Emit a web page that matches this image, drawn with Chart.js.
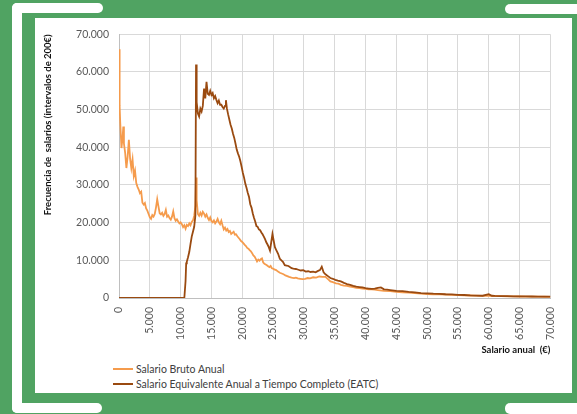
<!DOCTYPE html>
<html>
<head>
<meta charset="utf-8">
<script src="https://cdn.jsdelivr.net/npm/chart.js@4.4.1/dist/chart.umd.min.js"></script>
<style>
  html,body{margin:0;padding:0;}
  body{width:577px;height:414px;background:#50a362;position:relative;overflow:hidden;font-family:Lato,"Open Sans",sans-serif;}
  .bar{position:absolute;background:#fff;}
  #card{position:absolute;left:35px;top:18px;width:537px;height:375px;background:#fff;}
  #cv{position:absolute;left:35px;top:18px;}
  #legend{position:absolute;left:113px;top:361px;font-family:Lato,sans-serif;font-size:10.5px;color:#404040;}
  .row{display:flex;align-items:center;height:15px;}
  .sw{width:20px;height:2px;margin-right:3px;}
</style>
</head>
<body>
<div class="bar" style="left:12px;top:3px;width:10px;height:410px;border-radius:5px;"></div>
<div class="bar" style="left:12px;top:3px;width:91px;height:10px;border-radius:5px;"></div>
<div class="bar" style="left:12px;top:403px;width:90px;height:10px;border-radius:5px;"></div>
<div class="bar" style="left:505px;top:4px;width:80px;height:10px;border-radius:5px;"></div>
<div class="bar" style="left:505px;top:403px;width:80px;height:11px;border-radius:5px;"></div>
<div id="card"></div>
<canvas id="cv" width="537" height="342"></canvas>
<div id="legend"></div>
<script>
// ---- Data (salary in €, frequency per 200€ interval) ----
const seriesNames = ["Salario Bruto Anual", "Salario Equivalente Anual a Tiempo Completo (EATC)"];
const seriesColors = ["#f59b4c", "#9a4a10"];

const salarioBrutoAnual = [
[0,66000],[100,51000],[200,46500],[400,39800],[600,43000],[700,45500],[800,41000],[1000,38500],[1200,34500],[1400,37500],
[1600,42000],[1800,37000],[2000,34500],[2200,36800],[2400,32400],[2600,33800],[2800,30500],[3000,29500],[3200,28800],[3400,27800],
[3600,28200],[3800,25300],[4000,24800],[4200,25200],[4400,23800],[4600,23200],[4800,22300],[5000,21400],[5200,21000],[5400,22000],
[5600,21600],[5800,22300],[6000,24000],[6200,26200],[6400,24300],[6600,22500],[6800,22200],[7000,22600],[7200,21800],[7400,22300],
[7600,23400],[7800,21600],[8000,21900],[8200,21200],[8400,20800],[8600,21600],[8800,23000],[9000,21200],[9200,20500],[9400,20900],
[9600,20300],[9800,19800],[10000,20100],[10200,19600],[10400,18800],[10600,19300],[10800,18400],[11000,19400],[11200,19100],[11400,19800],
[11600,19300],[11800,20200],[12000,20600],[12200,21800],[12400,24500],[12500,32000],[12600,26000],[12800,22300],[13000,21800],[13200,22600],
[13400,21900],[13600,22900],[13800,22400],[14000,21600],[14200,22200],[14400,21300],[14600,20700],[14800,21400],[15000,20400],[15200,20100],
[15400,20600],[15600,19800],[15800,20300],[16000,21000],[16200,20100],[16400,19600],[16600,20500],[16800,19300],[17000,18200],[17200,18700],
[17400,17900],[17600,18300],[17800,17500],[18000,17800],[18200,17000],[18400,17300],[18600,17600],[18800,16800],[19000,16900],[19200,16400],
[19400,16000],[19600,15600],[19800,15100],[20000,14900],[20200,14500],[20400,14100],[20600,13800],[20800,13300],[21000,13100],[21200,12700],
[21400,12400],[21600,11900],[21800,11300],[22000,11000],[22200,10400],[22400,9700],[22600,10200],[22800,9900],[23000,10300],[23200,10500],
[23400,9400],[23600,9100],[23800,8900],[24000,8700],[24200,8400],[24400,8200],[24600,8500],[24800,7900],[25000,7800],[25200,7600],
[25500,7400],[25800,7000],[26100,6700],[26400,6500],[26700,6300],[27000,6000],[27300,5800],[27600,5600],[28000,5400],[28400,5300],
[28700,5400],[29000,5200],[29400,5100],[29800,5000],[30200,5100],[30600,5300],[31000,5200],[31500,5500],[32000,5400],[32500,5700],
[33000,5600],[33500,5600],[34000,4900],[34300,4400],[34700,4200],[35200,3900],[35600,3800],[36000,3500],[36500,3300],[37000,3200],
[37500,3000],[38000,2900],[38500,2700],[39000,2600],[39500,2500],[40000,2400],[40500,2300],[41000,2300],[41500,2200],[42000,2100],
[43000,1900],[44000,1800],[45000,1600],[46000,1500],[47000,1400],[48000,1300],[49000,1150],[50000,1050],[51000,1000],[52000,950],
[53000,880],[54000,820],[55000,760],[56000,700],[57000,660],[58000,620],[59000,580],[60000,560],[61000,520],[62000,480],
[63000,450],[64000,420],[65000,400],[66000,380],[67000,360],[68000,340],[69000,330],[70000,320]
];

const salarioEATC = [
[0,0],[10600,0],[10800,4500],[10900,9200],[11000,9600],[11200,10800],[11400,12200],[11600,14300],[11800,16300],[12000,17600],
[12200,18900],[12400,22000],[12500,62000],[12600,52000],[12800,49000],[13000,48200],[13200,50300],[13400,49500],[13600,51000],[13800,55600],
[14000,53000],[14200,57400],[14400,54200],[14600,53900],[14800,55000],[15000,53900],[15200,54400],[15400,53000],[15600,53600],[15800,52600],
[16000,51700],[16200,52400],[16400,51300],[16600,51300],[16800,50700],[17000,50300],[17200,51000],[17350,52500],[17500,50400],[17700,48800],
[17900,47400],[18100,46000],[18300,45000],[18500,43600],[18700,42500],[18900,41000],[19100,39400],[19300,38400],[19500,37500],[19700,36300],
[19900,34800],[20100,33200],[20300,31900],[20500,30300],[20700,29200],[20900,27900],[21100,26800],[21300,24900],[21500,24000],[21700,22500],
[21900,21300],[22100,20300],[22300,19100],[22500,18900],[22700,18200],[22900,18000],[23100,17400],[23300,16900],[23500,16300],[23700,15600],
[23900,14800],[24100,14200],[24300,13500],[24500,12600],[24700,14800],[24900,17000],[25100,15200],[25300,13500],[25500,12800],[25800,11800],
[26100,10400],[26400,9900],[26600,9600],[26900,8700],[27200,8600],[27500,8500],[28000,7900],[28300,7800],[28700,7700],[29100,7500],
[29500,7300],[29900,7400],[30300,7000],[30700,7100],[31100,6900],[31500,7000],[31900,6800],[32300,7200],[32600,7400],[32900,8300],
[33200,6800],[33500,6300],[33900,5800],[34300,5300],[34700,5100],[35100,4800],[35500,4600],[36000,4400],[36500,4000],[37000,3700],
[37500,3500],[38000,3200],[38500,3000],[39000,2900],[39500,2800],[40000,2600],[40500,2500],[41000,2400],[41500,2500],[42000,2700],
[42500,2800],[43000,2300],[43500,2200],[44000,2100],[45000,1900],[46000,1800],[47000,1600],[48000,1500],[49000,1300],[50000,1250],
[51000,1150],[52000,1100],[53000,1000],[54000,950],[55000,850],[56000,800],[57000,700],[58000,650],[59000,600],[60000,1000],
[60500,600],[61000,550],[62000,500],[63000,480],[64000,450],[65000,430],[66000,410],[67000,400],[68000,380],[69000,370],[70000,350]
];

const xAxis = {min: 0, max: 70000, step: 5000, title: "Salario anual  (€)"};
const yAxis = {min: 0, max: 70000, step: 10000, title: "Frecuencia de  salarios (intervalos de 200€)"};

// ---- Chart ----
const fmt = v => Number(v).toLocaleString('de-DE');
const toPts = arr => arr.map(p => ({x: p[0], y: p[1]}));

const datasets = [
  {label: seriesNames[0], data: toPts(salarioBrutoAnual), borderColor: seriesColors[0], backgroundColor: seriesColors[0], order: 1},
  {label: seriesNames[1], data: toPts(salarioEATC), borderColor: seriesColors[1], backgroundColor: seriesColors[1], order: 0}
];

const tickFont = {family: "Lato", size: 10.5};
const titleFont = {family: "Lato", size: 9.5, weight: "bold"};

new Chart(document.getElementById('cv'), {
  type: 'line',
  data: {datasets},
  options: {
    responsive: false,
    animation: false,
    devicePixelRatio: 1,
    elements: {point: {radius: 0}, line: {borderWidth: 1.8, tension: 0}},
    layout: {padding: {left: 0, right: 12, top: 14, bottom: 0}},
    plugins: {legend: {display: false}, tooltip: {enabled: false}},
    scales: {
      x: {
        type: 'linear', min: xAxis.min, max: xAxis.max,
        afterFit: s => { s.height = 62; },
        ticks: {stepSize: xAxis.step, autoSkip: false, maxRotation: 90, minRotation: 90, padding: 9,
                color: '#595959', font: tickFont, callback: v => fmt(v)},
        grid: {color: '#d9d9d9', drawTicks: false},
        border: {color: '#bfbfbf'},
        title: {display: true, text: xAxis.title, align: 'end', color: '#111', font: titleFont, padding: {top: 2, bottom: 4}}
      },
      y: {
        min: yAxis.min, max: yAxis.max,
        afterFit: s => { s.width = 84; },
        ticks: {stepSize: yAxis.step, padding: 10, color: '#595959', font: tickFont, callback: v => fmt(v)},
        grid: {color: '#d9d9d9', drawTicks: false},
        border: {color: '#bfbfbf'},
        title: {display: true, text: yAxis.title, align: 'end', color: '#111', font: titleFont, padding: {top: 7, bottom: 4}}
      }
    }
  }
});

// ---- Legend (two rows, as in the reference) ----
const lg = document.getElementById('legend');
datasets.forEach(d => {
  const r = document.createElement('div'); r.className = 'row';
  const sw = document.createElement('span'); sw.className = 'sw'; sw.style.background = d.borderColor;
  const t = document.createElement('span'); t.textContent = d.label;
  r.appendChild(sw); r.appendChild(t); lg.appendChild(r);
});
</script>
</body>
</html>
